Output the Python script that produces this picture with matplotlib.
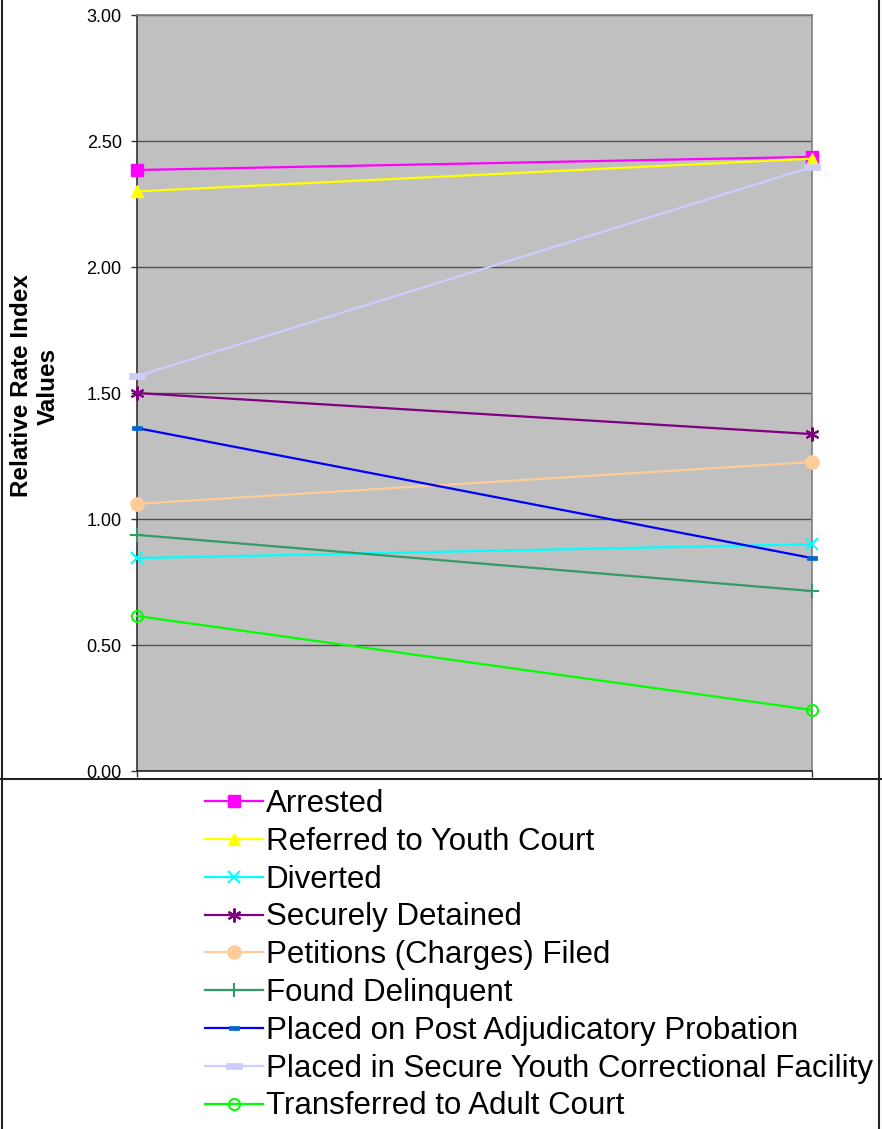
import matplotlib
matplotlib.use("Agg")
import matplotlib.pyplot as plt
from matplotlib.lines import Line2D
from matplotlib.path import Path
import numpy as np

plt.rcParams['font.family'] = ['Liberation Sans', 'DejaVu Sans']

# ---- data ----
periods = [0, 1]
series_names = [
    "Arrested",
    "Referred to Youth Court",
    "Diverted",
    "Securely Detained",
    "Petitions (Charges) Filed",
    "Found Delinquent",
    "Placed on Post Adjudicatory Probation",
    "Placed in Secure Youth Correctional Facility",
    "Transferred to Adult Court",
]
arrested = [2.385, 2.437]
referred = [2.30, 2.43]
diverted = [0.845, 0.90]
detained = [1.50, 1.337]
petitions = [1.06, 1.226]
delinquent = [0.937, 0.714]
probation = [1.361, 0.845]
secure_facility = [1.567, 2.397]
transferred = [0.615, 0.242]
y_ticks = [0.0, 0.5, 1.0, 1.5, 2.0, 2.5, 3.0]

all_values = [arrested, referred, diverted, detained, petitions,
              delinquent, probation, secure_facility, transferred]

def rect_marker(aspect):
    return Path([(-1, -aspect), (1, -aspect), (1, aspect), (-1, aspect), (-1, -aspect)],
                [Path.MOVETO, Path.LINETO, Path.LINETO, Path.LINETO, Path.CLOSEPOLY])

asterisk = (6, 2, 0)

styles = [
    dict(color="#FF00FF", marker="s", ms=8.5, mfc="#FF00FF", mec="#FF00FF"),
    dict(color="#FFFF00", marker="^", ms=9, mfc="#FFFF00", mec="#FFFF00"),
    dict(color="#00FFFF", marker="x", ms=8.5, mfc="#00FFFF", mec="#00FFFF", mew=1.5),
    dict(color="#800080", marker=asterisk, ms=10, mfc="#800080", mec="#800080", mew=1.5),
    dict(color="#FFCC99", marker="o", ms=9.5, mfc="#FFCC99", mec="#FFCC99"),
    dict(color="#339966", marker="+", ms=9.5, mfc="#339966", mec="#339966", mew=1.5),
    dict(color="#0000FF", marker=rect_marker(0.55), ms=6.5, mfc="#0066CC", mec="#0066CC", mew=0.5),
    dict(color="#CCCCFF", marker=rect_marker(0.4), ms=11, mfc="#CCCCFF", mec="#CCCCFF", mew=0.5),
    dict(color="#00FF00", marker="o", ms=8, mfc="none", mec="#00FF00", mew=1.5),
]

W, H = 882, 1129
fig = plt.figure(figsize=(W / 100, H / 100), dpi=100)
ax = fig.add_axes([137 / W, 1 - 771 / H, 675 / W, 756 / H])
ax.set_facecolor("#C0C0C0")

handles = []
for name, vals, st in zip(series_names, all_values, styles):
    st = dict(st)
    color = st.pop("color")
    marker = st.pop("marker")
    ms = st.pop("ms")
    h, = ax.plot(periods, vals, color=color, lw=1.6, marker=marker, markersize=ms,
                 clip_on=False, label=name, zorder=3, **st)
    handles.append(h)

ax.set_xlim(0, 1)
ax.set_ylim(0, 3)
ax.set_yticks(y_ticks)
ax.set_yticklabels([f"{v:.2f}" for v in y_ticks], fontsize=13)
ax.set_xticks([0, 1])
ax.set_xticklabels(["", ""])
ax.tick_params(axis="y", direction="out", length=4, width=1, color="#333333", pad=7)
ax.tick_params(axis="x", direction="out", length=4.5, width=1, color="#333333")
ax.yaxis.grid(True, color="#505050", lw=1)
ax.set_axisbelow(True)
ax.spines["left"].set_color("#333333")
ax.spines["bottom"].set_color("#222222")
ax.spines["right"].set_color("#808080")
ax.spines["top"].set_color("#808080")
for s in ax.spines.values():
    s.set_linewidth(1.2)

ax.set_ylabel("Relative Rate Index\nValues", fontsize=17.5, fontweight="bold")
ax.yaxis.set_label_coords((60 - 137) / 675, (771 - 386) / 756)

# figure frame lines
def px_line(x0, y0, x1, y1, color="#222222", lw=1.5):
    fig.add_artist(Line2D([x0 / W, x1 / W], [1 - y0 / H, 1 - y1 / H],
                          transform=fig.transFigure, color=color, lw=lw))

px_line(1.5, 0, 1.5, H)
px_line(879, 0, 879, H)
px_line(0, 779, W, 779)

fig.legend(handles=handles, labels=series_names, loc="upper left",
           bbox_to_anchor=(205 / W, 1 - 789 / H), frameon=False,
           fontsize=22.5, handlelength=1.84, handletextpad=0.1,
           labelspacing=0.25, borderaxespad=0, borderpad=0)

fig.savefig("out.png", dpi=100)
